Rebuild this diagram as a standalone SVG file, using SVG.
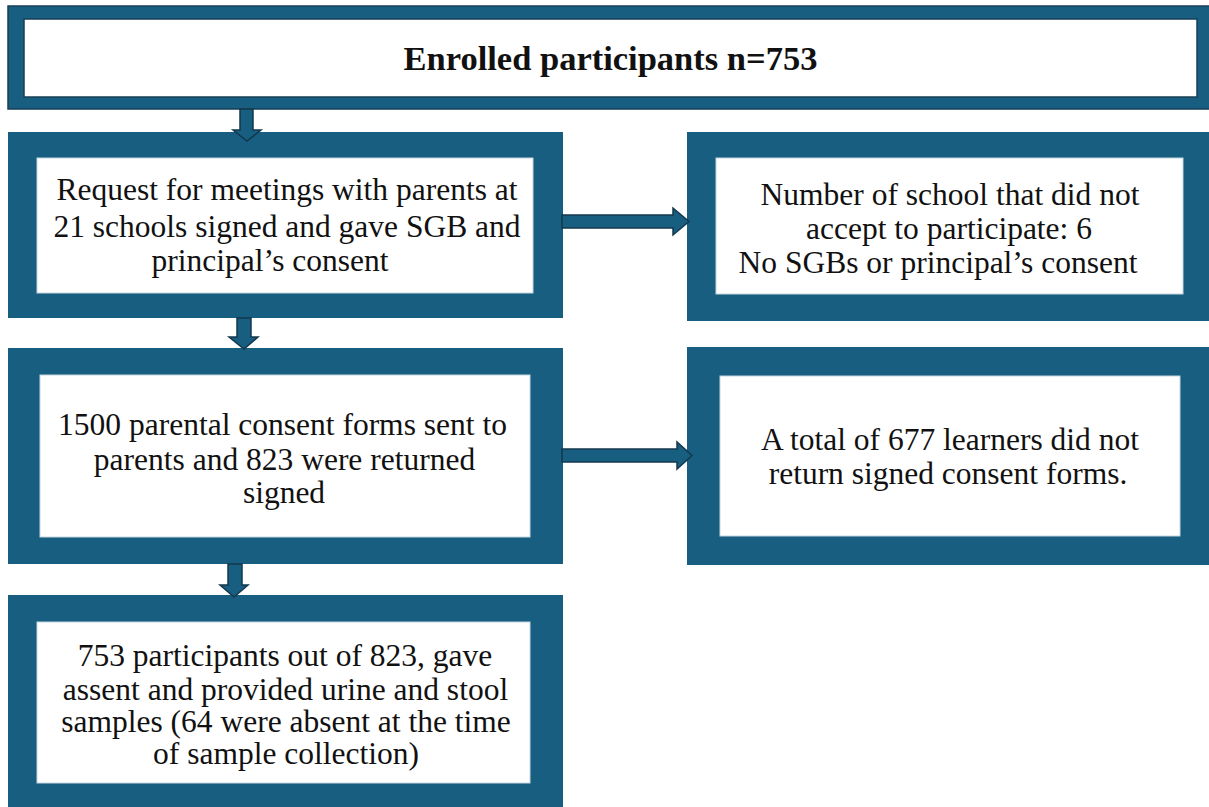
<svg xmlns="http://www.w3.org/2000/svg" width="1209" height="807" viewBox="0 0 1209 807">
  <style>
    .frame { fill: #175e80; }
    .frame-edged { fill: #175e80; stroke: #173f55; stroke-width: 1.5; }
    .panel { fill: #ffffff; stroke: #c6d6e0; stroke-width: 1; }
    .panel-edged { fill: #ffffff; stroke: #173f55; stroke-width: 1.5; }
    .arrow { fill: #175e80; stroke: #14384d; stroke-width: 1.5; stroke-linejoin: miter; }
    text { font-family: "Liberation Serif", "Times New Roman", serif; font-size: 31.5px; fill: #111111; text-anchor: middle; }
    .title { font-weight: bold; font-size: 34.5px; }
  </style>

  <rect width="1209" height="807" fill="#ffffff"/>

  <!-- top node -->
  <g id="enrolled">
    <rect class="frame-edged" x="8" y="6" width="1210" height="103"/>
    <rect class="panel-edged" x="24" y="19" width="1173" height="78"/>
    <text class="title" x="610.5" y="70">Enrolled participants n=753</text>
  </g>

  <g id="meetings">
    <rect class="frame" x="8" y="132" width="555" height="186"/>
    <rect class="panel" x="37" y="158" width="496" height="135"/>
    <text x="287" y="200">Request for meetings with parents at</text>
    <text x="287" y="237">21 schools signed and gave SGB and</text>
    <text x="270" y="271">principal’s consent</text>
  </g>

  <g id="declined-schools">
    <rect class="frame" x="687" y="132" width="530" height="189"/>
    <rect class="panel" x="716" y="158" width="467" height="136"/>
    <text x="950" y="205">Number of school that did not</text>
    <text x="949" y="239">accept to participate: 6</text>
    <text x="938" y="273">No SGBs or principal’s consent</text>
  </g>

  <g id="consent-forms">
    <rect class="frame" x="8" y="348" width="555" height="216"/>
    <rect class="panel" x="40" y="375" width="490" height="162"/>
    <text x="282.5" y="435">1500 parental consent forms sent to</text>
    <text x="284.5" y="470">parents and 823 were returned</text>
    <text x="284" y="503">signed</text>
  </g>

  <g id="not-returned">
    <rect class="frame" x="687" y="347" width="530" height="218"/>
    <rect class="panel" x="720" y="376" width="460" height="160"/>
    <text x="950" y="450">A total of 677 learners did not</text>
    <text x="948" y="484">return signed consent forms.</text>
  </g>

  <g id="participants">
    <rect class="frame" x="8" y="595" width="555" height="220"/>
    <rect class="panel" x="37" y="622" width="493" height="161"/>
    <text x="285" y="666">753 participants out of 823, gave</text>
    <text x="285.5" y="700">assent and provided urine and stool</text>
    <text x="286" y="732">samples (64 were absent at the time</text>
    <text x="286" y="764">of sample collection)</text>
  </g>

  <!-- block arrows between nodes -->
  <g id="connectors">
    <path class="arrow" d="M240,109 V130 H233 L247,141 L261,130 H253 V109 Z"/>
    <path class="arrow" d="M237,318 V337 H229 L244,349 L258,337 H251 V318 Z"/>
    <path class="arrow" d="M228,564 V585 H220 L234,597 L248,585 H242 V564 Z"/>
    <path class="arrow" d="M562,215 H673 V208 L689,221.5 L673,235 V228 H562 Z"/>
    <path class="arrow" d="M562,449 H677 V442 L692,455.5 L677,469 V462 H562 Z"/>
  </g>
</svg>
